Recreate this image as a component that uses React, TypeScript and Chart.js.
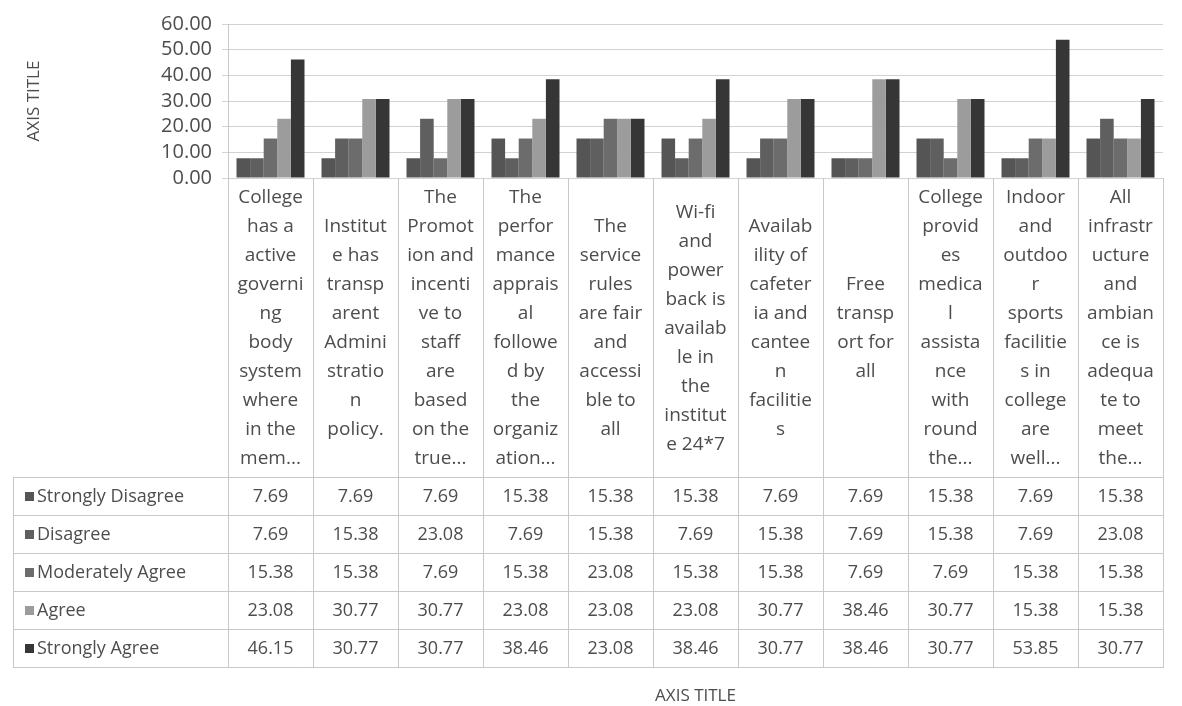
import React, { useEffect, useRef } from 'react';
import { Chart, registerables } from 'chart.js';

Chart.register(...registerables);

// ---------- DATA ----------
const categories: string[][] = [
  ['College', 'has a', 'active', 'governi', 'ng', 'body', 'system', 'where', 'in the', 'mem...'],
  ['Institut', 'e has', 'transp', 'arent', 'Admini', 'stratio', 'n', 'policy.'],
  ['The', 'Promot', 'ion and', 'incenti', 've to', 'staff', 'are', 'based', 'on the', 'true...'],
  ['The', 'perfor', 'mance', 'apprais', 'al', 'followe', 'd by', 'the', 'organiz', 'ation...'],
  ['The', 'service', 'rules', 'are fair', 'and', 'accessi', 'ble to', 'all'],
  ['Wi-fi', 'and', 'power', 'back is', 'availab', 'le in', 'the', 'institut', 'e 24*7'],
  ['Availab', 'ility of', 'cafeter', 'ia and', 'cantee', 'n', 'facilitie', 's'],
  ['Free', 'transp', 'ort for', 'all'],
  ['College', 'provid', 'es', 'medica', 'l', 'assista', 'nce', 'with', 'round', 'the...'],
  ['Indoor', 'and', 'outdoo', 'r', 'sports', 'facilitie', 's in', 'college', 'are', 'well...'],
  ['All', 'infrastr', 'ucture', 'and', 'ambian', 'ce is', 'adequa', 'te to', 'meet', 'the...'],
];

const seriesNames = ['Strongly Disagree', 'Disagree', 'Moderately Agree', 'Agree', 'Strongly Agree'];

const stronglyDisagree = [7.69, 7.69, 7.69, 15.38, 15.38, 15.38, 7.69, 7.69, 15.38, 7.69, 15.38];
const disagree = [7.69, 15.38, 23.08, 7.69, 15.38, 7.69, 15.38, 7.69, 15.38, 7.69, 23.08];
const moderatelyAgree = [15.38, 15.38, 7.69, 15.38, 23.08, 15.38, 15.38, 7.69, 7.69, 15.38, 15.38];
const agree = [23.08, 30.77, 30.77, 23.08, 23.08, 23.08, 30.77, 38.46, 30.77, 15.38, 15.38];
const stronglyAgree = [46.15, 30.77, 30.77, 38.46, 23.08, 38.46, 30.77, 38.46, 30.77, 53.85, 30.77];

const seriesValues = [stronglyDisagree, disagree, moderatelyAgree, agree, stronglyAgree];

const yMin = 0;
const yMax = 60;
const yStep = 10;

const xAxisTitle = 'AXIS TITLE';
const yAxisTitle = 'AXIS TITLE';

// ---------- STYLE ----------
const seriesColors = ['#555555', '#5f5f5f', '#6c6c6c', '#9c9c9c', '#363636'];
const FONT = "'Open Sans', sans-serif";
const TEXT = '#4d4d4d';
const LINE = '#c8c8c8';
const ROW_H = 38;
const TICK_PAD = 20;
const LABEL_BLOCK = 299;
const TABLE_LEFT = 13;
const X_AXIS_HEIGHT = 528;
const LABEL_LINE_H = 29;

const tablePlugin = {
  id: 'dataTable',
  afterDraw(chart: any) {
    const ctx = chart.ctx;
    const xs = chart.scales.x;
    const area = chart.chartArea;
    const n = categories.length;
    const colW = xs.getPixelForValue(1) - xs.getPixelForValue(0);
    const tableTop = Math.round(area.bottom + LABEL_BLOCK);
    const rows = seriesNames.length;
    const tableBottom = tableTop + ROW_H * rows;

    ctx.save();
    ctx.strokeStyle = LINE;
    ctx.lineWidth = 1;
    ctx.beginPath();
    for (let i = 0; i <= n; i++) {
      const xx = Math.round(xs.getPixelForValue(0) - colW / 2 + i * colW) + 0.5;
      ctx.moveTo(xx, area.bottom);
      ctx.lineTo(xx, tableBottom);
    }
    ctx.moveTo(TABLE_LEFT + 0.5, tableTop);
    ctx.lineTo(TABLE_LEFT + 0.5, tableBottom);
    for (let r = 0; r <= rows; r++) {
      const yy = tableTop + r * ROW_H + 0.5;
      ctx.moveTo(TABLE_LEFT, yy);
      ctx.lineTo(Math.round(area.right) + 1, yy);
    }
    ctx.stroke();

    ctx.font = `18px ${FONT}`;
    ctx.textBaseline = 'middle';
    for (let r = 0; r < rows; r++) {
      const cy = tableTop + r * ROW_H + ROW_H / 2 + 1;
      ctx.fillStyle = seriesColors[r];
      ctx.fillRect(TABLE_LEFT + 12, cy - 5, 9, 9);
      ctx.fillStyle = TEXT;
      ctx.textAlign = 'left';
      ctx.fillText(seriesNames[r], TABLE_LEFT + 24, cy);
      ctx.textAlign = 'center';
      const vals = seriesValues[r];
      for (let i = 0; i < n; i++) {
        ctx.fillText(vals[i].toFixed(2), xs.getPixelForValue(i), cy);
      }
    }
    ctx.restore();
  },
};

export default function App() {
  const ref = useRef<HTMLCanvasElement | null>(null);

  useEffect(() => {
    if (!ref.current) return;
    const chart = new Chart(ref.current, {
      type: 'bar',
      data: {
        labels: categories,
        datasets: seriesNames.map((name, i) => ({
          label: name,
          data: seriesValues[i],
          backgroundColor: seriesColors[i],
          borderWidth: 0,
          categoryPercentage: 0.8,
          barPercentage: 1.0,
        })),
      },
      options: {
        animation: false,
        responsive: true,
        maintainAspectRatio: false,
        layout: { padding: { top: 24, right: 19, bottom: 0, left: 0 } },
        plugins: {
          legend: { display: false },
          tooltip: { enabled: false },
          title: { display: false },
        },
        scales: {
          x: {
            grid: { display: false, drawTicks: false },
            border: { display: false },
            ticks: {
              autoSkip: false,
              maxRotation: 0,
              minRotation: 0,
              padding: TICK_PAD,
              crossAlign: 'center',
              color: TEXT,
              font: { family: FONT, size: 19, lineHeight: `${LABEL_LINE_H}px` },
            },
            title: {
              display: true,
              text: xAxisTitle,
              color: TEXT,
              font: { family: FONT, size: 17, lineHeight: 1.2 },
              padding: { top: 4, bottom: 0 },
            },
            afterFit: (scale: any) => {
              scale.height = X_AXIS_HEIGHT;
            },
          },
          y: {
            min: yMin,
            max: yMax,
            ticks: {
              stepSize: yStep,
              autoSkip: false,
              padding: 10,
              color: TEXT,
              font: { family: FONT, size: 20 },
              callback: (v: any) => Number(v).toFixed(2),
            },
            grid: { color: '#d2d2d2', tickLength: 6, lineWidth: 1 },
            border: { display: true, color: LINE },
            title: {
              display: true,
              text: yAxisTitle,
              color: TEXT,
              font: { family: FONT, size: 17, lineHeight: 1.2 },
              padding: { top: 24, bottom: 0 },
            },
            afterFit: (scale: any) => {
              scale.width = 228;
            },
          },
        },
      },
      plugins: [tablePlugin],
    });
    return () => chart.destroy();
  }, []);

  return (
    <div style={{ position: 'fixed', left: 0, top: 0, width: 1182, height: 706, background: '#fff' }}>
      <canvas ref={ref} />
    </div>
  );
}
